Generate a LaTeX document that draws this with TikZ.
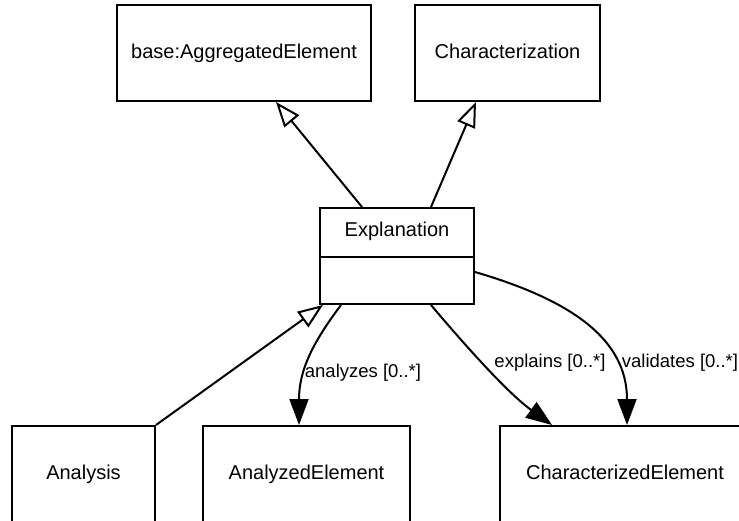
\documentclass[tikz,border=0pt]{standalone}
\usepackage{fontspec}
\setmainfont{Liberation Sans}
\usetikzlibrary{arrows.meta}
\tikzset{
  classbox/.style={draw, line width=2pt, fill=white, inner sep=0pt, align=center,
    text height=14.5pt, text depth=4.5pt, font=\fontsize{20}{24}\selectfont},
  assoclabel/.style={inner sep=0pt, font=\fontsize{18.5}{22}\selectfont},
  gen/.style={line width=2pt, -{Triangle[open, length=25pt, width=19pt, fill=white]}},
  assoc/.style={line width=2pt, -{Triangle[length=26pt, width=19pt]}},
}
\begin{document}
\begin{tikzpicture}[x=1pt, y=-1pt, line join=miter]
  \useasboundingbox (0,0) rectangle (739,520);
  \clip (0,0) rectangle (739,520);

  % super classes
  \node[classbox, minimum width=254pt, minimum height=96pt] (agg) at (244,53) {base:AggregatedElement};
  \node[classbox, minimum width=185pt, minimum height=96pt] (chr) at (507.5,53) {Characterization};

  % Explanation class with an empty attribute compartment
  \node[classbox, minimum width=154pt, minimum height=96pt] (expl) at (397,256) {};
  \node[inner sep=0pt, font=\fontsize{20}{24}\selectfont] (explname) at (397,231) {Explanation};
  \draw[line width=2pt] ([yshift=-1pt]expl.west) -- ([yshift=-1pt]expl.east);

  % lower classes
  \node[classbox, minimum width=143pt, minimum height=96pt] (ana) at (83.5,474) {Analysis};
  \node[classbox, minimum width=207pt, minimum height=96pt] (ae) at (306.5,474) {AnalyzedElement};
  \node[classbox, minimum width=250pt, minimum height=96pt] (ce) at (625,474) {CharacterizedElement};

  % generalizations
  \draw[gen] ([xshift=43pt]expl.north west) -- ([xshift=160pt]agg.south west);
  \draw[gen] ([xshift=112pt]expl.north west) -- ([xshift=62pt]chr.south west);
  \draw[gen] (ana.north east) -- ([xshift=4pt]expl.south west);

  % associations
  \draw[assoc] ([xshift=22pt]expl.south west) .. controls +(-27,36) and +(0,-56) .. ([xshift=97pt]ae.north west);
  \draw[assoc] ([xshift=112pt]expl.south west) .. controls +(38,45) and +(-43,-31) .. ([xshift=53pt]ce.north west);
  \draw[assoc] ([yshift=-16pt]expl.east) .. controls +(96,28) and +(0,-86) .. ([xshift=128pt]ce.north west);

  \node[assoclabel] (lanalyzes) at (363,373) {analyzes [0..*]};
  \node[assoclabel] (lexplains) at (550,363) {explains [0..*]};
  \node[assoclabel] (lvalidates) at (680,363) {validates [0..*]};
\end{tikzpicture}
\end{document}
